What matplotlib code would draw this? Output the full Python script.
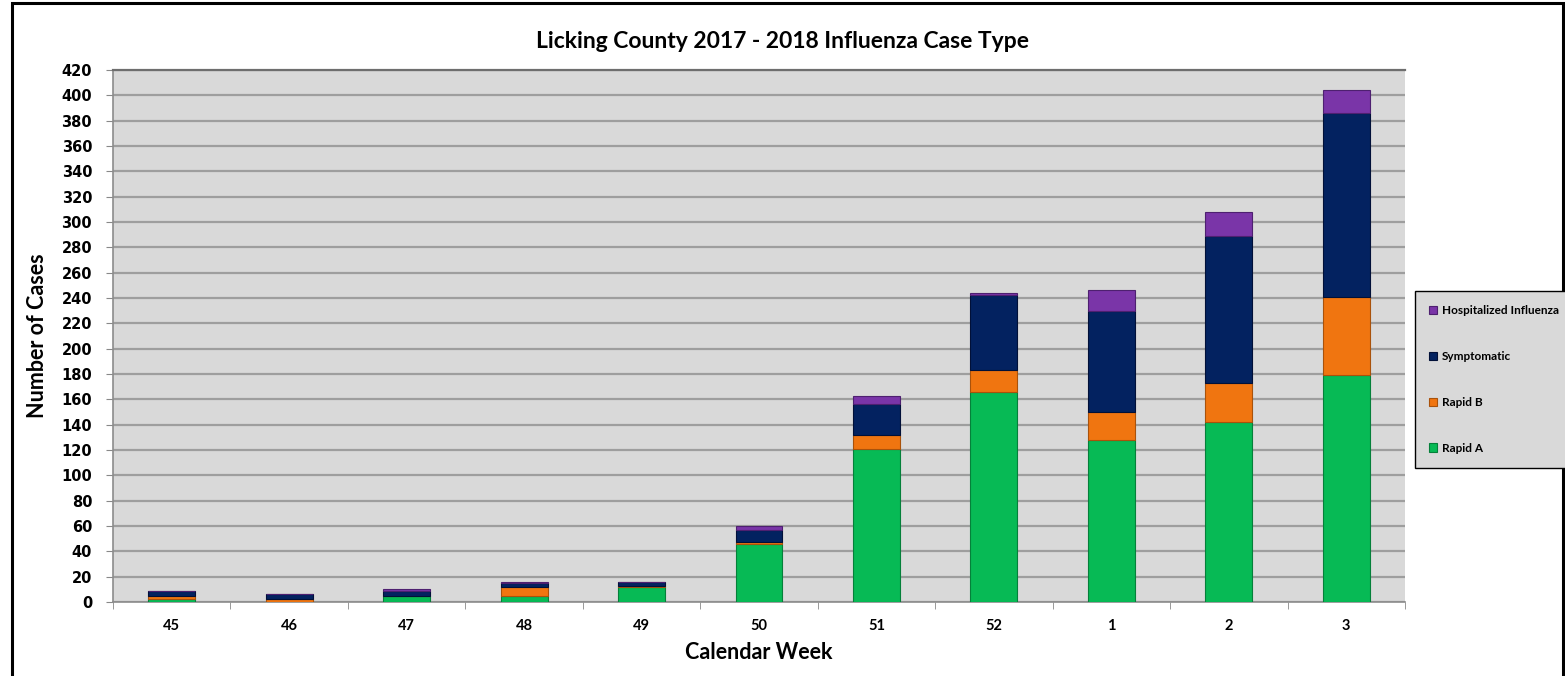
import numpy as np
import matplotlib.pyplot as plt
from matplotlib.patches import Rectangle

# weekly case counts
weeks = ['45', '46', '47', '48', '49', '50', '51', '52', '1', '2', '3']
rapid_a = [2, 0, 5, 5, 12, 46, 121, 166, 128, 142, 179]
rapid_b = [3, 2, 0, 7, 1, 1, 11, 17, 22, 31, 62]
symptomatic = [4, 4, 4, 3, 3, 10, 24, 59, 80, 116, 145]
hospitalized = [0, 0, 1, 1, 0, 3, 7, 2, 16, 19, 18]

series = [('Rapid A', rapid_a, '#07BA55', '#05803A'),
          ('Rapid B', rapid_b, '#F07510', '#A9520B'),
          ('Symptomatic', symptomatic, '#032260', '#011038'),
          ('Hospitalized Influenza', hospitalized, '#7A35A8', '#4E2070')]

narrow = ['Lato', 'DejaVu Sans']

fig = plt.figure(figsize=(15.65, 6.76), dpi=100)
ax = fig.add_axes([113 / 1565, 1 - 602 / 676, 1292 / 1565, 532 / 676])
ax.set_facecolor('#D9D9D9')

x = np.arange(len(weeks))
bottom = np.zeros(len(weeks))
handles = []
for name, vals, col, edge in series:
    b = ax.bar(x, vals, 0.4, bottom=bottom, color=col, edgecolor=edge,
               linewidth=0.8, label=name, zorder=3)
    handles.append(b)
    bottom += np.array(vals)

ax.set_xlim(-0.5, len(weeks) - 0.5)
ax.set_ylim(0, 420)
ax.set_yticks(np.arange(0, 421, 20))
ax.yaxis.grid(True, color='#9E9E9E', linewidth=1.6, zorder=0)
ax.set_axisbelow(True)
ax.set_xticks(x)
ax.set_xticklabels(weeks, fontfamily=narrow, fontweight='bold', fontsize=10.5)
ax.set_xticks(np.arange(-0.5, len(weeks), 1), minor=True)
ax.tick_params(axis='x', which='major', length=0, pad=12)
ax.tick_params(axis='x', which='minor', length=5, color='#888888')
ax.tick_params(axis='y', length=5, color='#888888', labelsize=10.5, pad=10)
for lab in ax.get_yticklabels():
    lab.set_fontweight('bold')

for s in ['left', 'bottom']:
    ax.spines[s].set_color('#8C8C8C')
    ax.spines[s].set_linewidth(1.2)
ax.spines['top'].set_color('#6E6E6E')
ax.spines['top'].set_linewidth(1.6)
ax.spines['right'].set_visible(False)

ax.set_xlabel('Calendar Week', fontfamily=narrow, fontweight='bold',
              fontsize=15.5, labelpad=7)
ax.set_ylabel('Number of Cases', fontfamily=narrow, fontweight='bold',
              fontsize=15.5, labelpad=10)
fig.text(0.5, 1 - 42 / 676, 'Licking County 2017 - 2018 Influenza Case Type',
         ha='center', va='center', fontfamily=narrow, fontweight='bold',
         fontsize=16.5)

leg = fig.legend(handles[::-1], [s[0] for s in series][::-1],
                 loc='upper left', bbox_to_anchor=(1415 / 1565, 1 - 291 / 676),
                 frameon=True, fancybox=False, edgecolor='black',
                 facecolor='#D9D9D9', framealpha=1, labelspacing=2.95,
                 handlelength=0.7, handleheight=0.7, handletextpad=0.4,
                 borderpad=1.2, borderaxespad=0,
                 prop={'family': narrow, 'weight': 'bold', 'size': 8.5})
leg.get_frame().set_linewidth(1.0)

# outer chart frame
fig.patches.append(Rectangle((12 / 1565, -0.01), (1563 - 12) / 1565,
                             1 - 3 / 676 + 0.01,
                             transform=fig.transFigure, fill=False,
                             edgecolor='black', linewidth=2.2))

plt.savefig('out.png', dpi=100)
